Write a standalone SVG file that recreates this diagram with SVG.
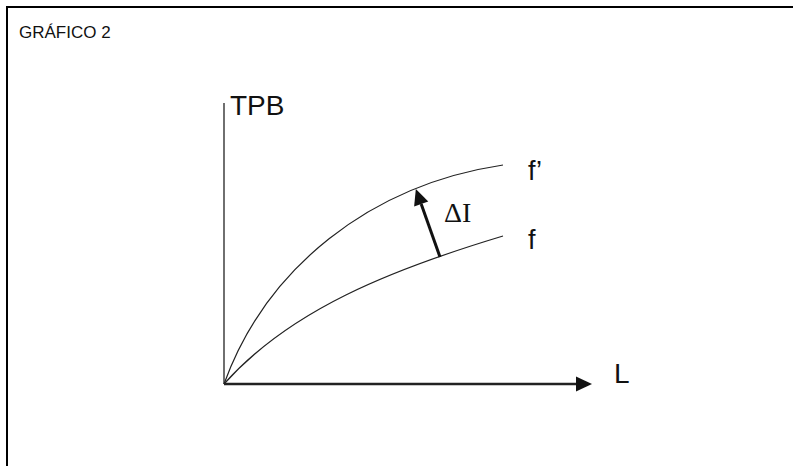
<svg xmlns="http://www.w3.org/2000/svg" width="793" height="466" viewBox="0 0 793 466">
<defs>
<style>
.frame{stroke:#000;stroke-width:2;fill:none}
.axis{stroke:#222;fill:none}
.curve{stroke:#222;stroke-width:1.2;fill:none}
.sans{font-family:"Liberation Sans",Arial,sans-serif;fill:#111}
.serif{font-family:"Liberation Serif","Times New Roman",serif;fill:#111}
</style>
<marker id="head" markerUnits="userSpaceOnUse" markerWidth="17" markerHeight="16" refX="0" refY="7.5" orient="auto" overflow="visible">
<path d="M0,0 L16,7.5 L0,15 Z" fill="#111"/>
</marker>
</defs>
<rect width="793" height="466" fill="#fff"/>
<g id="frame">
<path class="frame" d="M7,466 L7,7 L793,7"/>
<text class="sans" x="19" y="38" font-size="17">GRÁFICO 2</text>
</g>
<g id="axes">
<line class="axis" x1="224" y1="384" x2="224" y2="103" stroke-width="1.3"/>
<line class="axis" x1="224" y1="384" x2="576" y2="384" stroke-width="2.5" marker-end="url(#head)"/>
<text class="sans" x="230" y="115" font-size="28">TPB</text>
<text class="sans" x="614" y="383" font-size="28">L</text>
</g>
<g id="curve-f-prime">
<path class="curve" d="M224,384 C266,268 370,185 503,165"/>
<text class="sans" x="528" y="180" font-size="27">f’</text>
</g>
<g id="curve-f">
<path class="curve" d="M224,384 C290,310 390,270 503,236"/>
<text class="sans" x="528" y="249" font-size="27">f</text>
</g>
<g id="connectors">
<line x1="440" y1="257" x2="421.2" y2="204.1" stroke="#111" stroke-width="3" marker-end="url(#head)"/>
<text class="serif" x="444" y="222" font-size="28">ΔI</text>
</g>
</svg>
